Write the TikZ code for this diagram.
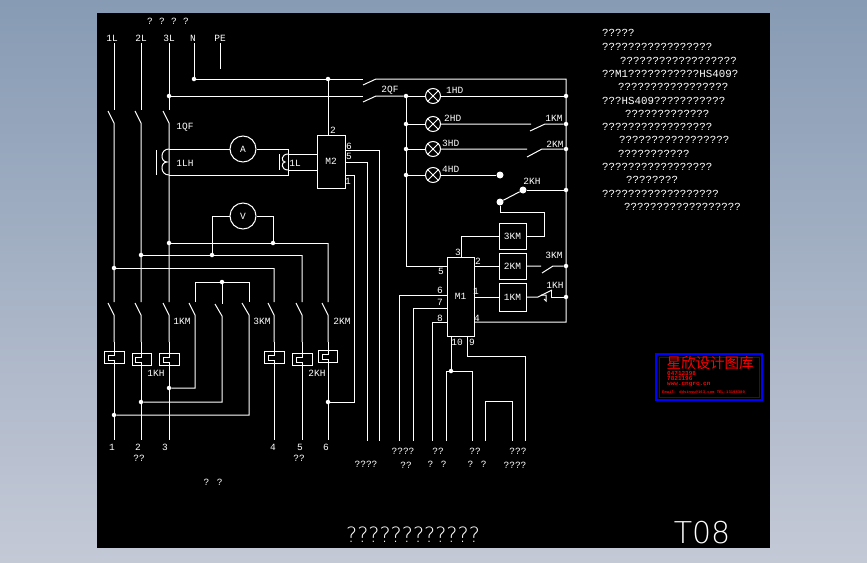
\documentclass[tikz,border=0pt]{standalone}
\usepackage{fontspec}
\setmainfont{Liberation Mono}
\newfontfamily\cjk{Noto Sans CJK SC}
\newfontfamily\thinfont{DejaVu Sans ExtraLight}
\usetikzlibrary{positioning}
\definecolor{logoblue}{RGB}{0,0,255}
\tikzset{
    wire/.style={draw=white, line width=1pt},
    lbl/.style={text=white, inner sep=0pt, font=\fontsize{9.5}{10}\selectfont},
    note/.style={text=white, inner sep=0pt, anchor=west, font=\fontsize{10.8}{11}\selectfont},
    tiny/.style={text=red, inner sep=0pt, anchor=west, font=\bfseries\fontsize{6}{6}\selectfont},
    dotnode/.style={circle, fill=white, inner sep=0pt, minimum size=4.5pt},
    bigdot/.style={circle, fill=white, inner sep=0pt, minimum size=7pt},
    cbox/.style={draw=white, line width=1pt, rectangle, inner sep=0pt, text=white, font=\fontsize{9.5}{10}\selectfont},
    lamp/.style={draw=white, line width=1pt, circle, inner sep=0pt, minimum size=15pt},
    meter/.style={draw=white, line width=1pt, circle, inner sep=0pt, minimum size=26pt, text=white, font=\fontsize{9.5}{10}\selectfont},
}
\begin{document}
\begin{tikzpicture}[x=1pt,y=-1pt]
    \useasboundingbox (0,0) rectangle (867,562);
    \shade[top color={rgb,255:red,135;green,155;blue,180}, bottom color={rgb,255:red,196;green,201;blue,214}] (0,0) rectangle (867,562);
    \fill[black] (97,13) rectangle (770,548);

    % supply labels
    \foreach \name/\xx/\txt in {la/112/1L,lb/141/2L,lc/169/3L,ln/193/N,lpe/220/PE}
        \node(\name) [lbl] at (\xx,38) {\txt};
    \foreach \xx in {150,162,174,186}
        \node [lbl] at (\xx,21) {?};

    % junctions on the supply lines
    \foreach \name/\xx/\yy in {ja/114/268,jb/141/255,jc/169/243,jc2/169/96,jn/194/79,jm/328/79,
        jv1/212/255,jv2/273/243,jk/222/282,jk1/169/388,jk2/141/402,jk3/114/415,j6/328/402,
        jq/406/96,jh2/406/124,jh3/406/149,jh4/406/175,
        jr1/566/96,jr2/566/124,jr3/566/149,jr4/566/190,jr5/566/266,jr6/566/297,jp/451/371}
        \node(\name) [dotnode] at (\xx,\yy) {};

    % main circuit breaker and phase lines
    \foreach \name/\xx in {a/114,b/141,c/169}{
        \draw[wire] (\xx,43) -- (\xx,110);
        \draw[wire] (\xx-6,111) -- (\xx,123) -- (\xx,302);
        \draw[wire] (\xx-6,303) -- (\xx,315) -- (\xx,342);
    }
    \foreach \xx/\top in {274/268,302/255,328/243}
        \draw[wire] (\xx,\top) -- (\xx,302) (\xx-6,303) -- (\xx,315) -- (\xx,342);
    \draw[wire] (194,43) -- (jn) -- (jm) -- (363,79);
    \draw[wire] (220,43) -- (220,69);
    \draw[wire] (jc2) -- (363,96);
    \draw[wire] (363,85) -- (376,79) -- (566,79) -- (566,322) -- (474,322);
    \draw[wire] (363,102) -- (376,96) -- (jq);
    \draw[wire] (ja) -- (274,268);
    \draw[wire] (jb) -- (302,255);
    \draw[wire] (jc) -- (328,243);

    % thermal relays
    \foreach \name/\xx/\yy/\xl/\xr in {ta/114/351/104/124,tb/141/353/132/151,tc/169/353/159/179,
        td/274/351/264/284,te/302/353/292/312,tf/328/350/318/337}{
        \draw[wire] (\xl,\yy) rectangle (\xr,\yy+12);
        \draw[wire] (\xx,\yy) -- (\xx,\yy+4) -- (\xx-6,\yy+4) -- (\xx-6,\yy+9) -- (\xx,\yy+9) -- (\xx,440);
    }
    \draw[wire] (114,342) -- (114,351) (141,342) -- (141,353) (169,342) -- (169,353);
    \draw[wire] (274,342) -- (274,351) (302,342) -- (302,353) (328,342) -- (328,350);

    % reversing contacts
    \draw[wire] (195,302) -- (195,282) -- (249,282) -- (249,302);
    \draw[wire] (jk) -- (222,304);
    \draw[wire] (189,303) -- (195,315) -- (195,388) -- (jk1);
    \draw[wire] (215,304) -- (222,316) -- (222,402) -- (jk2);
    \draw[wire] (242,303) -- (249,315) -- (249,415) -- (jk3);

    % ammeter and current transformers
    \node(ammeter) [meter] at (243,149) {A};
    \node(voltmeter) [meter] at (243,216) {V};
    \node(mtwo) [cbox, minimum width=28pt, minimum height=53pt] at (331,161.5) {M2};
    \draw[wire] (ammeter) -- (169,149);
    \draw[wire] (ammeter) -- (288,149) -- (288,175) -- (169,175);
    \draw[wire] (156,150) -- (156,175);
    \draw[wire] (169,149) .. controls (160,149) and (160,162) .. (167,162) .. controls (160,162) and (160,175) .. (169,175);
    \draw[wire] (279,154) -- (279,170);
    \draw[wire] (288,154) .. controls (281,154) and (281,162) .. (285,162) .. controls (281,162) and (281,170) .. (288,170);
    \draw[wire] (288,154) -- (mtwo.west |- 0,154) (288,170) -- (mtwo.west |- 0,170);
    \draw[wire] (voltmeter) -- (212,216) -- (jv1);
    \draw[wire] (voltmeter) -- (273,216) -- (jv2);
    \draw[wire] (jm) -- (jm |- mtwo.north);
    \draw[wire] (345,150) -- (379,150) -- (379,441);
    \draw[wire] (345,162) -- (367,162) -- (367,441);
    \draw[wire] (345,175) -- (354,175) -- (354,402) -- (j6);

    % lamps
    \foreach \name/\yy/\lx/\txt in {hone/96/446/1HD,htwo/124/444/2HD,hthree/149/442/3HD,hfour/175/442/4HD}{
        \node(\name) [lamp] at (433,\yy) {};
        \draw[wire] (\name.north west) -- (\name.south east) (\name.north east) -- (\name.south west);
        \node [lbl, anchor=west] at (\lx,\yy-6) {\txt};
    }
    \draw[wire] (jq) -- (hone);
    \draw[wire] (hone) -- (jr1);
    \draw[wire] (jh2) -- (htwo);
    \draw[wire] (jh3) -- (hthree);
    \draw[wire] (jh4) -- (hfour);
    \draw[wire] (htwo) -- (531,124) (530,131) -- (545,124) -- (jr2);
    \draw[wire] (hthree) -- (527,149) (527,157) -- (542,149) -- (jr3);
    \node(cone) [bigdot] at (500,175) {};
    \node(ctwo) [bigdot] at (523,190) {};
    \node(cthree) [bigdot] at (500,202) {};
    \draw[wire] (hfour) -- (cone);
    \draw[wire] (ctwo) -- (jr4);
    \draw[wire] (ctwo) -- (cthree);

    % controller and relays
    \node(mone) [cbox, minimum width=27pt, minimum height=79pt] at (460.5,296.5) {M1};
    \node(kthree) [cbox, minimum width=27pt, minimum height=26pt] at (512.5,236) {3KM};
    \node(ktwo) [cbox, minimum width=27pt, minimum height=26pt] at (512.5,266) {2KM};
    \node(kone) [cbox, minimum width=27pt, minimum height=28pt] at (512.5,297) {1KM};
    \draw[wire] (jq) -- (406,266) -- (447,266);
    \draw[wire] (cthree) -- (500,212) -- (544,212) -- (544,236) -- (kthree.east);
    \draw[wire] (kthree.west) -- (461,236) -- (461,257);
    \draw[wire] (474,266) -- (ktwo.west);
    \draw[wire] (474,297) -- (kone.west);
    \draw[wire] (ktwo.east) -- (541,266) (542,273) -- (553,266) -- (jr5);
    \draw[wire] (kone.east) -- (538,297) -- (552,290);
    \draw[wire] (551,290) -- (551,297) -- (jr6);
    \draw[wire] (541,295) -- (546,295) -- (546,301) -- (544,299);
    \draw[wire] (447,295) -- (399,295) -- (399,441);
    \draw[wire] (447,308) -- (413,308) -- (413,441);
    \draw[wire] (447,322) -- (432,322) -- (432,441);
    \draw[wire] (451,336) -- (jp);
    \draw[wire] (446,441) -- (446,371) -- (472,371) -- (472,441);
    \draw[wire] (467,336) -- (467,356) -- (525,356) -- (525,441);
    \draw[wire] (485,441) -- (485,401) -- (512,401) -- (512,441);

    % labels
    \foreach \xx/\yy/\txt in {185/127/1QF,185/163/1LH,295/163/1L,333/130/2,349/146/6,349/156/5,348/181/1,
        182/321/1KM,262/321/3KM,342/321/2KM,156/373/1KH,317/373/2KH,
        112/447/1,138/447/2,165/447/3,273/447/4,300/447/5,326/447/6,
        139/458/??,299/458/??,213/482/? ?,
        390/90/2QF,554/118/1KM,555/144/2KM,532/181/2KH,
        458/252/3,478/261/2,476/291/1,477/318/4,441/271/5,440/290/6,440/302/7,440/318/8,457/342/10,472/342/9,
        554/255/3KM,555/285/1KH,
        403/451/????,438/451/??,475/451/??,518/451/???,
        366/464/????,406/465/??,437/464/? ?,477/464/? ?,515/465/????}
        \node [lbl] at (\xx,\yy) {\txt};

    % notes on the right
    \foreach \xx/\yy/\txt in {602/33/?????,
        602/47/?????????????????,
        620/61/??????????????????,
        602/74/??M1???????????HS409?,
        618/87/?????????????????,
        602/101/???HS409???????????,
        625/114/?????????????,
        602/127/?????????????????,
        619/140/?????????????????,
        618/154/???????????,
        602/167/?????????????????,
        626/180/????????,
        602/194/??????????????????,
        624/207/??????????????????}
        \node [note] at (\xx,\yy) {\txt};

    % title block
    \node(title) [text=white, inner sep=0pt, font=\thinfont\fontsize{21}{22}\selectfont] at (413,535) {????????????};
    \node(drawno) [text=white, inner sep=0pt, font=\thinfont\fontsize{30}{30}\selectfont] at (702,533) {T08};

    % logo
    \draw[logoblue, line width=2pt] (656,354) rectangle (762,400);
    \draw[logoblue, line width=1pt] (659,357) rectangle (759,397);
    \node(logo) [text=red, inner sep=0pt, font=\cjk\fontsize{14.5}{15}\selectfont] at (710,363) {星欣设计图库};
    \node(logoa) [tiny] at (667,373.5) {04712398};
    \node(logob) [tiny] at (667,379) {7821196};
    \node(logoc) [tiny] at (667,385) {www.cngrc.cn};
    \node(logod) [tiny, font=\bfseries\fontsize{3.9}{4}\selectfont] at (662,392) {Email: ddsinsu@163.com TEL:13198380};
\end{tikzpicture}
\end{document}
